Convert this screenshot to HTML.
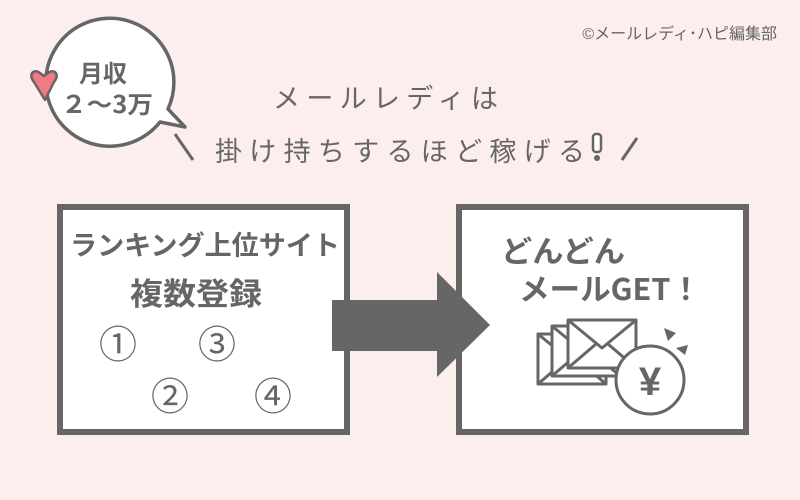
<!DOCTYPE html>
<html><head><meta charset="utf-8"><style>
html,body{margin:0;padding:0;background:#fdeeee;}
svg{display:block}
text{font-family:"Liberation Sans","Noto Sans CJK JP",sans-serif;fill:#666;}
.j{font-family:"Noto Sans CJK JP",sans-serif;}
</style></head><body>
<svg width="800" height="500" viewBox="0 0 800 500" xmlns="http://www.w3.org/2000/svg">
<rect width="800" height="500" fill="#fdeeee"/>
<text x="777" y="39" font-size="16" text-anchor="end" fill="#666">©メールレディ･ハピ編集部</text>
<path d="M168,109 A64,64 0 1 0 160,122 L185,127 Z" fill="#fff" stroke="#666" stroke-width="3.5" stroke-linejoin="round"/>
<path d="M34,82 C28,75 33,68 40,73 L44,76 L48,73 C55,68 60,75 54,82 L45,100 Z" fill="#f07b84" stroke="#666" stroke-width="2.5" stroke-linejoin="round"/>
<text class="j" x="103" y="82" font-size="24" font-weight="bold" text-anchor="middle">月収</text>
<text class="j" x="61" y="113" font-size="24" font-weight="bold" textLength="92" lengthAdjust="spacingAndGlyphs">２～3万</text>
<line x1="175" y1="134" x2="193" y2="160" stroke="#666" stroke-width="3"/>
<line x1="622" y1="160" x2="637" y2="138" stroke="#666" stroke-width="3"/>
<text class="j" x="273" y="108" font-size="27" textLength="225" lengthAdjust="spacing" fill="#666">メールレディは</text>
<text class="j" x="215" y="161" font-size="27" textLength="370" lengthAdjust="spacing" fill="#666">掛け持ちするほど稼げる</text>
<rect x="593" y="134" width="8" height="18" rx="3" fill="#fff" stroke="#666" stroke-width="2.5"/>
<circle cx="597" cy="158" r="3" fill="#666"/>
<rect x="60" y="207" width="287" height="225" fill="#fff" stroke="#666" stroke-width="6"/>
<rect x="459" y="207" width="287" height="225" fill="#fff" stroke="#666" stroke-width="6"/>
<text class="j" x="70" y="255" font-size="27" font-weight="bold" textLength="270" lengthAdjust="spacingAndGlyphs">ランキング上位サイト</text>
<text class="j" x="130" y="305" font-size="31" font-weight="bold" textLength="132" lengthAdjust="spacingAndGlyphs">複数登録</text>
<text class="j" x="118" y="358" font-size="38" text-anchor="middle">①</text>
<text class="j" x="217" y="358" font-size="38" text-anchor="middle">③</text>
<text class="j" x="170" y="410" font-size="38" text-anchor="middle">②</text>
<text class="j" x="273" y="410" font-size="38" text-anchor="middle">④</text>
<polygon points="332,300 437,300 437,272 490,325 437,377 437,351 332,351" fill="#666"/>
<text class="j" x="501" y="262" font-size="30" font-weight="bold" textLength="124" lengthAdjust="spacingAndGlyphs">どんどん</text>
<text class="j" x="519" y="300" font-size="30" font-weight="bold" textLength="182" lengthAdjust="spacingAndGlyphs">メールGET！</text>
<g fill="#fff" stroke="#666" stroke-width="3" stroke-linejoin="round">
<rect x="538" y="334" width="68" height="50"/>
<path d="M538,334 L572,362 L606,334 M538,384 L566,360 M606,384 L578,360" fill="none"/>
<rect x="552" y="326" width="68" height="50"/>
<path d="M552,326 L586,354 L620,326 M552,376 L580,352 M620,376 L592,352" fill="none"/>
<rect x="568" y="320" width="68" height="48"/>
<path d="M568,320 L602,348 L636,320 M568,368 L596,344 M636,368 L608,344" fill="none"/>
<circle cx="650" cy="380" r="34"/>
</g>
<polygon points="664,328 676,333 668,341" fill="#666"/>
<polygon points="676,348 688,345 685,355" fill="#666"/>
<text x="650" y="395" font-size="40" font-weight="bold" text-anchor="middle">¥</text>
</svg>
</body></html>
